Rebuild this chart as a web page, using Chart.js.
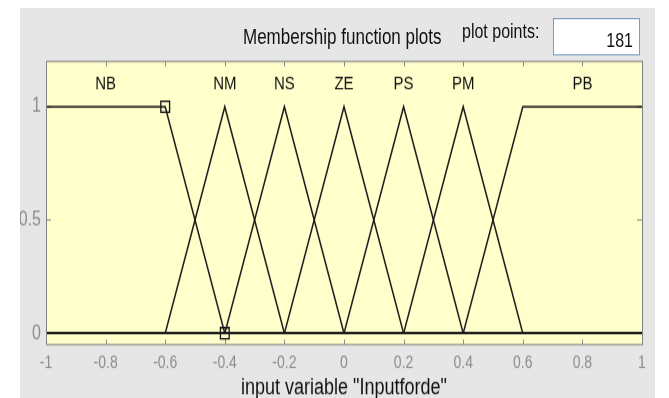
<!DOCTYPE html>
<html>
<head>
<meta charset="utf-8">
<script src="https://cdn.jsdelivr.net/npm/chart.js@4"></script>
<style>
  html, body { margin: 0; padding: 0; background: #fff; width: 669px; height: 398px; overflow: hidden; }
  /* the whole panel is drawn 312px tall and stretched to 390px */
  #panel { position: absolute; left: 20px; top: 8px; width: 635px; height: 312px; background: #e6e6e6;
           transform: scaleY(1.25); transform-origin: 0 0;
           font-family: "Liberation Sans", Arial, sans-serif; color: #111; }
  #chart { position: absolute; left: 0; top: 0; }
  .hdr { position: absolute; font-size: 17px; line-height: 17px; white-space: nowrap; }
  #ptsBox { position: absolute; left: 533px; top: 8px; width: 85px; height: 27.6px; background: #fff; border: 1px solid #7f9db9; }
  #ptsVal { position: absolute; right: 6px; top: 9.2px; font-size: 16px; line-height: 16px; }
</style>
</head>
<body>
<div id="panel">
  <canvas id="chart" width="635" height="312"></canvas>
  <div class="hdr" style="left:223px; top:14.9px;">Membership function plots</div>
  <div class="hdr" style="left:442px; top:11.4px; font-size:16px; line-height:16px;">plot points:</div>
  <div id="ptsBox"><span id="ptsVal">181</span></div>
</div>
<script>
// Membership functions of the input "Inputforde" (vertex coordinates)
const mfNames = ['NB', 'NM', 'NS', 'ZE', 'PS', 'PM', 'PB'];
const mfX = [
  [-1, -0.6, -0.4, 1],
  [-1, -0.6, -0.4, -0.2, 1],
  [-1, -0.4, -0.2, 0, 1],
  [-1, -0.2, 0, 0.2, 1],
  [-1, 0, 0.2, 0.4, 1],
  [-1, 0.2, 0.4, 0.6, 1],
  [-1, 0.4, 0.6, 1]
];
const mfY = [
  [1, 1, 0, 0],
  [0, 0, 1, 0, 0],
  [0, 0, 1, 0, 0],
  [0, 0, 1, 0, 0],
  [0, 0, 1, 0, 0],
  [0, 0, 1, 0, 0],
  [0, 0, 1, 1]
];
// where each MF name is written
const labelX = [-0.8, -0.4, -0.2, 0, 0.2, 0.4, 0.8];
const labelY = 1.1;
// vertices of the selected MF (NB) that carry square handles
const selX = [-0.6, -0.4];
const selY = [1, 0];

const xTicks = [-1, -0.8, -0.6, -0.4, -0.2, 0, 0.2, 0.4, 0.6, 0.8, 1];
const xTickLabels = ['-1', '-0.8', '-0.6', '-0.4', '-0.2', '0', '0.2', '0.4', '0.6', '0.8', '1'];
const yTicks = [0, 0.5, 1];
const yTickLabels = ['0', '0.5', '1'];
const xTitle = 'input variable "Inputforde"';

const FONT = '"Liberation Sans", Arial, sans-serif';
const TICK_GRAY = '#8c8c8c';

const datasets = mfNames.map((name, i) => ({
  label: name,
  data: mfX[i].map((x, j) => ({ x: x, y: mfY[i][j] })),
  borderColor: '#1c1c1c',
  borderWidth: 1.5,
  pointRadius: 0,
  fill: false,
  tension: 0
}));
datasets.push({
  label: 'selected',
  data: selX.map((x, j) => ({ x: x, y: selY[j] })),
  showLine: false,
  pointStyle: 'rect',
  pointRadius: 6.2,
  pointBorderWidth: 1.3,
  pointBorderColor: '#111',
  pointBackgroundColor: 'rgba(0,0,0,0)'
});

const mfFrame = {
  id: 'mfFrame',
  beforeDatasetsDraw(chart) {
    const { ctx, chartArea: a, scales: { x, y } } = chart;
    ctx.save();
    ctx.fillStyle = '#ffffcc';
    ctx.fillRect(a.left, a.top, a.right - a.left, a.bottom - a.top);
    ctx.strokeStyle = TICK_GRAY;
    ctx.lineWidth = 1;
    ctx.beginPath();
    xTicks.forEach(v => {
      const px = Math.round(x.getPixelForValue(v)) + 0.5;
      ctx.moveTo(px, a.bottom); ctx.lineTo(px, a.bottom - 4);
      ctx.moveTo(px, a.top); ctx.lineTo(px, a.top + 4);
    });
    yTicks.forEach(v => {
      const py = y.getPixelForValue(v);
      ctx.moveTo(a.left, py); ctx.lineTo(a.left + 5, py);
      ctx.moveTo(a.right, py); ctx.lineTo(a.right - 5, py);
    });
    ctx.stroke();
    ctx.restore();
  },
  afterDatasetsDraw(chart) {
    const { ctx, chartArea: a, scales: { x, y } } = chart;
    ctx.save();
    ctx.strokeStyle = '#808080';
    ctx.lineWidth = 1;
    ctx.strokeRect(a.left + 0.5, a.top, a.right - a.left, a.bottom - a.top);
    ctx.fillStyle = '#111';
    ctx.font = '15px ' + FONT;
    ctx.textAlign = 'center';
    ctx.textBaseline = 'middle';
    mfNames.forEach((n, i) => {
      ctx.fillText(n, x.getPixelForValue(labelX[i]), y.getPixelForValue(labelY));
    });
    ctx.restore();
  }
};

new Chart(document.getElementById('chart'), {
  type: 'line',
  data: { datasets: datasets },
  plugins: [mfFrame],
  options: {
    responsive: false,
    animation: false,
    devicePixelRatio: 1,
    layout: { padding: { top: 42.8, right: 13, left: 0, bottom: 0 } },
    plugins: { legend: { display: false }, tooltip: { enabled: false } },
    scales: {
      x: {
        type: 'linear',
        min: -1, max: 1,
        afterBuildTicks: s => { s.ticks = xTicks.map(v => ({ value: v })); },
        afterFit: s => { s.height = 42.8; },
        grid: { display: false, drawTicks: false },
        border: { display: false },
        ticks: {
          color: TICK_GRAY,
          font: { family: FONT, size: 14 },
          padding: 7,
          maxRotation: 0,
          autoSkip: false,
          callback: (v, i) => xTickLabels[i]
        },
        title: {
          display: true,
          text: xTitle,
          color: '#111',
          font: { family: FONT, size: 18, lineHeight: 1.0 },
          padding: { top: 0, bottom: -1.5 }
        }
      },
      y: {
        type: 'linear',
        min: -0.05, max: 1.2,
        afterBuildTicks: s => { s.ticks = yTicks.map(v => ({ value: v })); },
        afterFit: s => { s.width = 26; },
        grid: { display: false, drawTicks: false },
        border: { display: false },
        ticks: {
          color: TICK_GRAY,
          font: { family: FONT, size: 16 },
          padding: 5,
          autoSkip: false,
          callback: (v, i) => yTickLabels[i]
        }
      }
    }
  }
});
</script>
</body>
</html>
